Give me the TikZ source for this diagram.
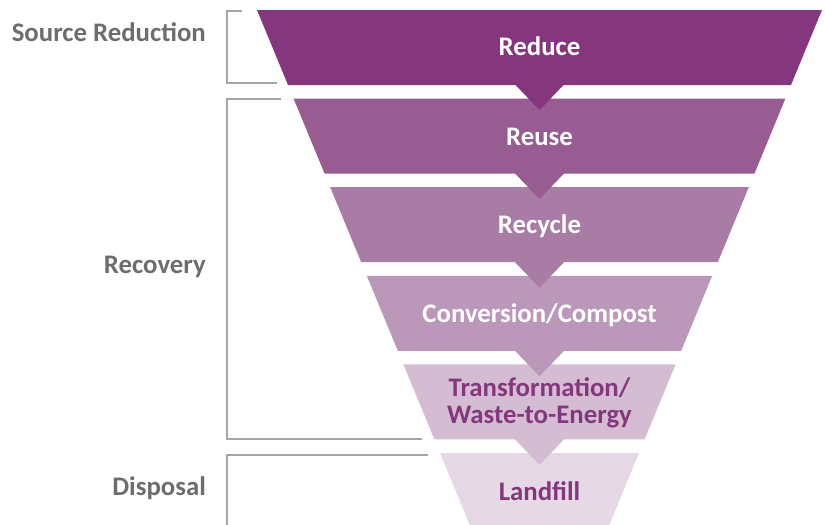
\documentclass[tikz,border=0pt]{standalone}
\usepackage{fontspec}
\setmainfont{Carlito}
\definecolor{cA}{HTML}{84377D}
\definecolor{cB}{HTML}{975C92}
\definecolor{cC}{HTML}{A97CA6}
\definecolor{cD}{HTML}{BB98BA}
\definecolor{cE}{HTML}{D4BDD3}
\definecolor{cF}{HTML}{E6D8E5}
\definecolor{labgray}{HTML}{6D6D6D}
\definecolor{linegray}{HTML}{A5A5A5}
\begin{document}
\begin{tikzpicture}[x=1pt,y=-1pt,
  bandtext/.style={font=\bfseries\fontsize{26.8}{27}\selectfont, align=center, inner sep=0pt},
  sidelabel/.style={font=\bfseries\fontsize{26.8}{27}\selectfont, text=labgray, anchor=east, inner sep=0pt},
  bracket/.style={draw=linegray, line width=1.3pt}]
\useasboundingbox (0,0) rectangle (825,525);
% bands
\fill[cA] (257,10) -- (822,10) -- (791,85) -- (288,85) -- cycle;
\fill[cB] (293.6,98.6) -- (785.4,98.6) -- (754.4,173.6) -- (324.6,173.6) -- cycle;
\fill[cC] (330.2,187.2) -- (748.8,187.2) -- (717.8,262.2) -- (361.2,262.2) -- cycle;
\fill[cD] (366.8,275.8) -- (712.2,275.8) -- (681.2,350.8) -- (397.8,350.8) -- cycle;
\fill[cE] (403.4,364.4) -- (675.6,364.4) -- (644.6,439.4) -- (434.4,439.4) -- cycle;
\fill[cF] (440,453) -- (639,453) -- (609.3,525) -- (469.7,525) -- cycle;
% arrow tips
\fill[cA] (514.5,84) -- (564.5,84) -- (539.5,110) -- cycle;
\fill[cB] (514.5,173) -- (564.5,173) -- (539.5,199) -- cycle;
\fill[cC] (514.5,261.7) -- (564.5,261.7) -- (539.5,287.7) -- cycle;
\fill[cD] (514.5,350.3) -- (564.5,350.3) -- (539.5,376.3) -- cycle;
\fill[cE] (514.5,438.9) -- (564.5,438.9) -- (539.5,464.9) -- cycle;
% band texts
\node[bandtext, text=white] (reduce) at (539.5,46) {Reduce};
\node[bandtext, text=white] (reuse) at (539.5,137) {Reuse};
\node[bandtext, text=white] (recycle) at (539.5,226.5) {Recycle};
\node[bandtext, text=white] (conv) at (539.5,315) {Conversion/Compost};
\node[bandtext, text=cA] (transf) at (539.5,402.5) {Transformation/\\Waste-to-Energy};
\node[bandtext, text=cA] (landfill) at (539.5,491) {Landfill};
% brackets
\draw[bracket] (242,11) -- (227,11) -- (227,83) -- (277,83);
\draw[bracket] (281,99) -- (227,99) -- (227,439) -- (422,439);
\draw[bracket] (428,455) -- (227,455) -- (227,526);
% side labels
\node[sidelabel] (src) at (206,32) {Source Reduction};
\node[sidelabel] (rec) at (206,266.5) {Recovery};
\node[sidelabel] (disp) at (206,488) {Disposal};
\end{tikzpicture}
\end{document}
